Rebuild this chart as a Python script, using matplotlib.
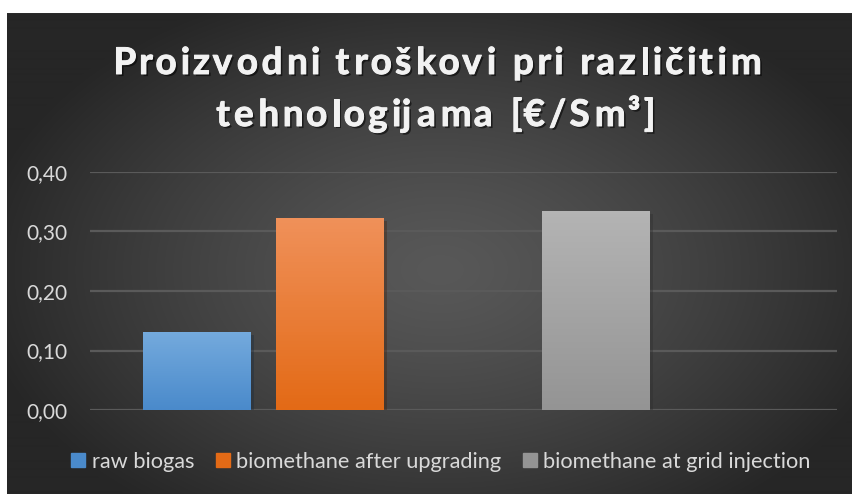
"""
Proizvodni troskovi - bar chart recreation
Grouped bars on a dark radial-gradient background.
"""
import matplotlib.pyplot as plt
import matplotlib.patheffects as pe
import matplotlib.colors as mcolors
from matplotlib import font_manager as fm
from matplotlib.ft2font import FT2Font
import numpy as np

series = ["raw biogas", "biomethane after upgrading", "biomethane at grid injection"]
values = [0.131, 0.323, 0.334]
slots = [0, 1, 3]  # slot index of each bar (slot 2 is empty in the original)
colors_top = ["#74aadd", "#f0915a", "#b4b4b4"]
colors_bottom = ["#4a8acb", "#e36a16", "#949494"]
yticks = [0.0, 0.1, 0.2, 0.3, 0.4]
title_lines = ["Proizvodni troškovi pri različitim", "tehnologijama [€/Sm³]"]

W, H = 853, 494
DPI = 100
fig = plt.figure(figsize=(W / DPI, H / DPI), dpi=DPI, facecolor="white")

# background: radial gradient, leaving a thin white margin top/left
bg = fig.add_axes([0, 0, 1, 1], zorder=-5)
bg.set_axis_off()
yy, xx = np.mgrid[0:H, 0:W]
d = np.sqrt(((xx - 440) / 470.0) ** 2 + ((yy - 270) / 300.0) ** 2)
v = np.clip(88 - 50 * np.clip(d, 0, 1) ** 1.3, 36, 90) / 255.0
img = np.dstack([v, v, v])
img[:14, :, :] = 1.0
img[:, :7, :] = 1.0
bg.imshow(img, extent=(0, W, H, 0), aspect="auto", interpolation="bilinear")
bg.set_xlim(0, W)
bg.set_ylim(H, 0)

ax = fig.add_axes([90 / W, (H - 410) / H, 747 / W, 238 / H])
ax.set_facecolor("none")

bars = ax.bar(slots, values, width=0.812, color=colors_bottom, zorder=3)
for rect, ct, cb in zip(bars, colors_top, colors_bottom):
    rect.set_path_effects([pe.SimplePatchShadow(offset=(2, -2), alpha=0.35, rho=0.3),
                           pe.Normal()])
    x0, y0 = rect.get_x(), rect.get_y()
    w, h = rect.get_width(), rect.get_height()
    t = np.array(mcolors.to_rgb(ct))
    b = np.array(mcolors.to_rgb(cb))
    grad = np.linspace(0, 1, 64)[:, None, None]
    gimg = (t * (1 - grad) + b * grad) * np.ones((64, 2, 3))
    im = ax.imshow(gimg, extent=(x0, x0 + w, y0, y0 + h), aspect="auto",
                   origin="upper", zorder=4)
    im.set_clip_path(rect)

ax.set_xlim(-0.8045, 4.812)
ax.set_ylim(0, 0.4)
ax.set_yticks(yticks)
ax.set_yticklabels([f"{t:.2f}".replace(".", ",") for t in yticks])
ax.set_xticks([])
ax.grid(axis="y", color="#5a5a5a", linewidth=1.6, zorder=0)
for s in ax.spines.values():
    s.set_visible(False)
ax.tick_params(axis="y", length=0, pad=16, labelsize=15, labelcolor="#d9d9d9")
for lab in ax.get_yticklabels():
    lab.set_fontfamily("Lato")

# legend
handles = [plt.Rectangle((0, 0), 1, 1, color=c) for c in colors_bottom]
leg = fig.legend(handles, series, loc="center", bbox_to_anchor=(441 / W, 1 - 462 / H),
                 ncol=3, frameon=False, handlelength=0.63, handleheight=0.63,
                 handletextpad=0.3, columnspacing=1.0,
                 prop={"family": "Lato", "size": 15.7})
for t in leg.get_texts():
    t.set_color("#d9d9d9")

# title with letter spacing (drawn char by char)
tsize = 26.5
tcolor = "#f2f2f2"
fprop = fm.FontProperties(family="Lato", weight="bold", size=tsize)
font = FT2Font(fm.findfont(fprop))
font.set_size(tsize, DPI)


def advances(s):
    out = []
    for ch in s:
        g = font.load_char(ord(ch))
        out.append((g.linearHoriAdvance / 65536.0, g.horiBearingX / 64.0))
    return out


target_w = 760 - 111
adv1 = advances(title_lines[0])
spacing = (target_w - sum(a for a, _ in adv1)) / (len(title_lines[0]) - 1)
baselines = [74, 126]
centre_x = 435
effects = [pe.SimplePatchShadow(offset=(1.5, -1.5), alpha=0.55, shadow_rgbFace="black"),
           pe.Stroke(linewidth=0.7, foreground=tcolor), pe.Normal()]
for line, base in zip(title_lines, baselines):
    adv = advances(line)
    total = sum(a for a, _ in adv) + spacing * (len(line) - 1)
    pen = centre_x - total / 2
    for ch, (a, bx) in zip(line, adv):
        if ch != " ":
            fig.text((pen + bx) / W, 1 - base / H, ch, ha="left", va="baseline",
                     color=tcolor, fontproperties=fprop, path_effects=effects)
        pen += a + spacing

fig.savefig("out.png", dpi=DPI, facecolor="white")
